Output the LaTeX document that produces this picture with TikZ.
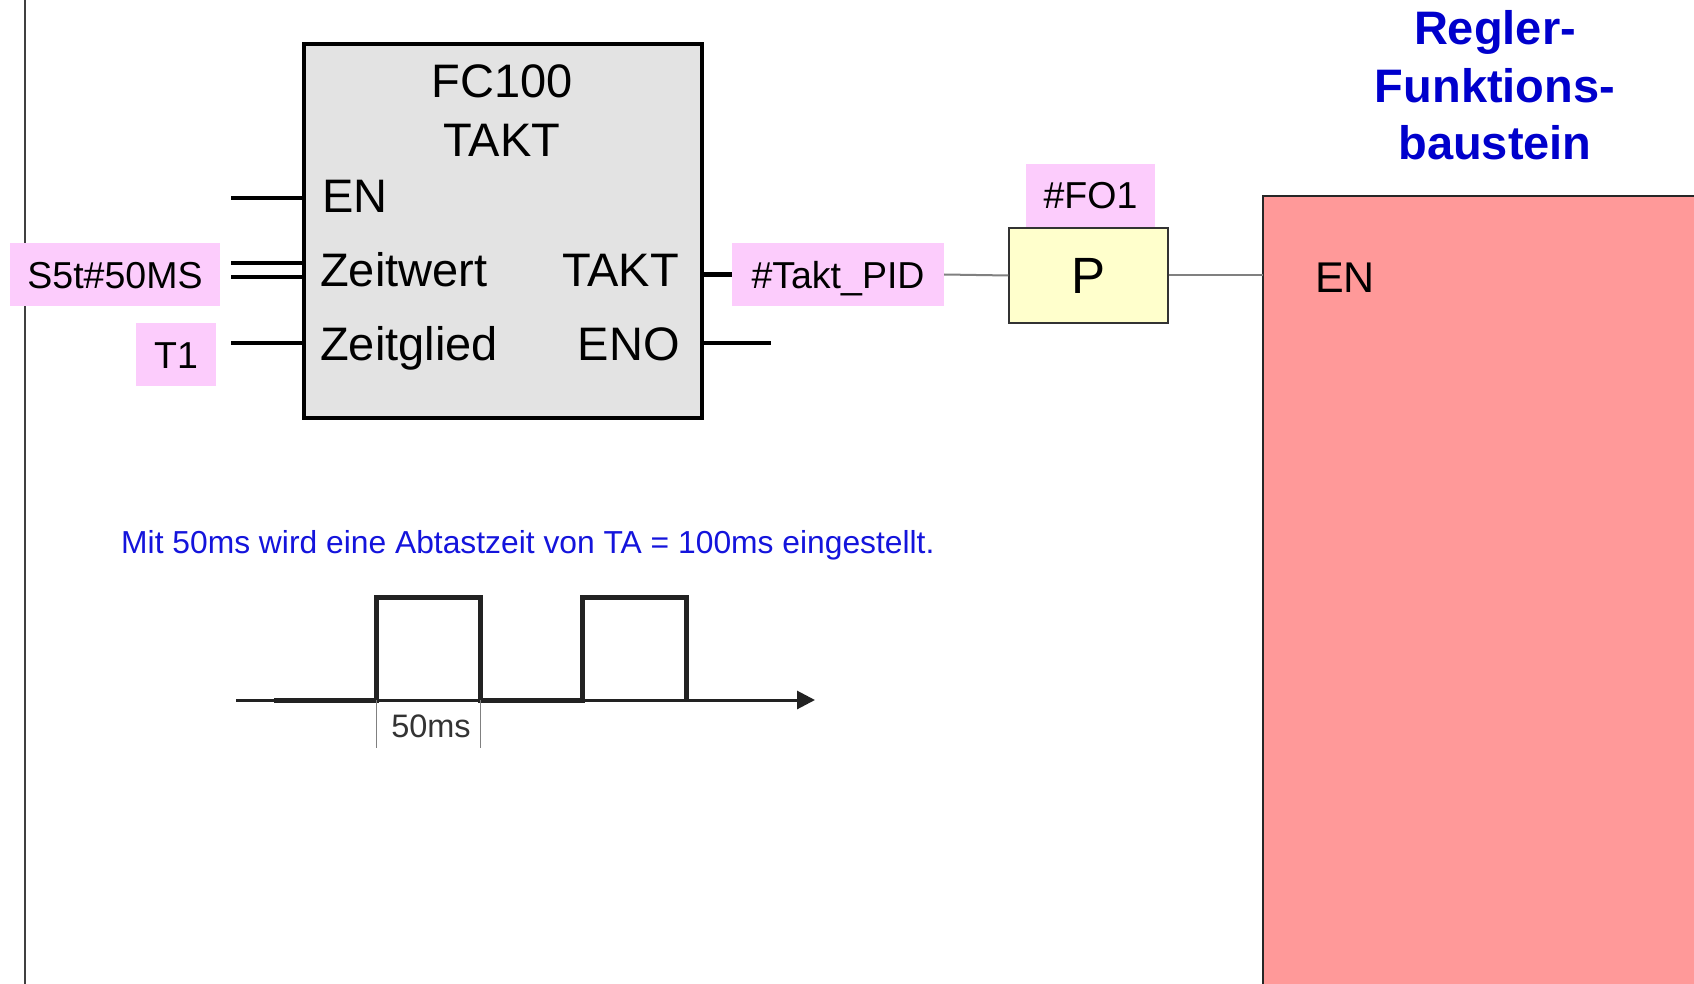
\documentclass[tikz,border=0pt]{standalone}
\usepackage{fontspec}
\setmainfont{Liberation Sans}
\usetikzlibrary{arrows.meta}
\definecolor{pinklab}{RGB}{252,204,252}
\definecolor{fcgray}{RGB}{227,227,227}
\definecolor{pyellow}{RGB}{255,255,204}
\definecolor{regred}{RGB}{255,153,153}
\definecolor{titleblue}{RGB}{0,0,204}
\definecolor{textblue}{RGB}{20,20,220}
\definecolor{wave}{RGB}{34,34,34}
\tikzset{
  lab/.style={fill=pinklab, inner sep=0pt, font=\fontsize{37.5}{42}\selectfont, text height=27pt, text depth=0pt},
  blk/.style={inner sep=0pt, font=\fontsize{47}{52}\selectfont},
  pinline/.style={line width=4.5pt, black},
  wire/.style={line width=2pt, gray},
}
\begin{document}
\begin{tikzpicture}[x=1pt,y=-1pt]
\useasboundingbox (0,0) rectangle (1694,984);
% left rail
\draw[line width=1.5pt, black!75] (25,0) -- (25,984);
% FC100 block
\node[draw=black, line width=4pt, fill=fcgray, minimum width=398pt, minimum height=374pt, inner sep=0pt, anchor=north west] (fc) at (302,42) {};
\node[blk, anchor=base] (t1) at (502,98) {FC100};
\node[blk, anchor=base] (t2) at (502,157) {TAKT};
\node[blk, anchor=base west] (en) at (322,213) {EN};
\node[blk, anchor=base west] (zw) at (320,287) {Zeitwert};
\node[blk, anchor=base west] (zg) at (320,360) {Zeitglied};
\node[blk, anchor=base east] (takto) at (679,287) {TAKT};
\node[blk, anchor=base east] (eno) at (680,360) {ENO};
% input pins
\coordinate (enin) at (231,198);
\coordinate (zwin1) at (231,263);
\coordinate (zwin2) at (231,277);
\coordinate (zgin) at (231,343);
\draw[pinline] (enin) -- (enin -| fc.west);
\draw[pinline] (zwin1) -- (zwin1 -| fc.west);
\draw[pinline] (zwin2) -- (zwin2 -| fc.west);
\draw[pinline] (zgin) -- (zgin -| fc.west);
% labels
\node[lab, minimum width=210pt, minimum height=62pt] (s5t) at (115,274.5) {S5t\#50MS};
\node[lab, minimum width=80pt, minimum height=63pt] (tone) at (176,354.5) {T1};
\node[lab, minimum width=212pt, minimum height=63pt] (taktpid) at (838,274.5) {\#Takt\_PID};
\node[lab, minimum width=129pt, minimum height=63pt] (fo1) at (1090.5,195.5) {\#FO1};
% output pins
\coordinate (enoout) at (771,343);
\draw[pinline] (fc.east |- taktpid.west) -- (taktpid.west);
\draw[pinline] (fc.east |- enoout) -- (enoout);
% P contact
\node[draw=black!80, line width=1.5pt, fill=pyellow, minimum width=159pt, minimum height=95pt, inner sep=0pt, font=\fontsize{51}{56}\selectfont, text height=36.5pt, text depth=0pt] (p) at (1088.5,275.5) {P};
% Regler block
\node[fill=regred, minimum width=431pt, minimum height=788pt, inner sep=0pt, anchor=north west] (regler) at (1263,196) {};
\draw[line width=1.5pt, black!85] (regler.north east) -- (regler.north west) -- (regler.south west);
\node[anchor=base west, inner sep=0pt, font=\fontsize{43}{48}\selectfont] (ren) at (1315,293) {EN};
% wires
\draw[wire] (taktpid.east) -- (p.west);
\draw[wire] (p.east) -- (p.east -| regler.west);
% title
\node[align=center, inner sep=0pt, anchor=base, text=titleblue, font=\bfseries\fontsize{47}{57.5}\selectfont] (title) at (1495,160) {Regler-\\Funktions-\\baustein};
% sentence
\node[anchor=base west, inner sep=0pt, text=textblue, font=\fontsize{31.8}{36}\selectfont] (sent) at (121,553) {Mit 50ms wird eine Abtastzeit von TA = 100ms eingestellt.};
% pulse diagram
\coordinate (ax0) at (236,700);
\coordinate (ax1) at (815,700);
\draw[line width=3pt, wave, -{Triangle[length=18pt,width=18pt]}] (ax0) -- (ax1);
\draw[line width=5pt, wave, line join=miter] (274,700) -- (376,700) -- (376,597) -- (480,597) -- (480,700) -- (582,700) -- (582,597) -- (686,597) -- (686,700);
\draw[line width=1pt, gray] (376,700) -- (376,748);
\draw[line width=1pt, gray] (480,700) -- (480,748);
\node[anchor=base, inner sep=0pt, text=black!80, font=\fontsize{32.5}{36}\selectfont] (ms) at (431,737) {50ms};
\end{tikzpicture}
\end{document}
